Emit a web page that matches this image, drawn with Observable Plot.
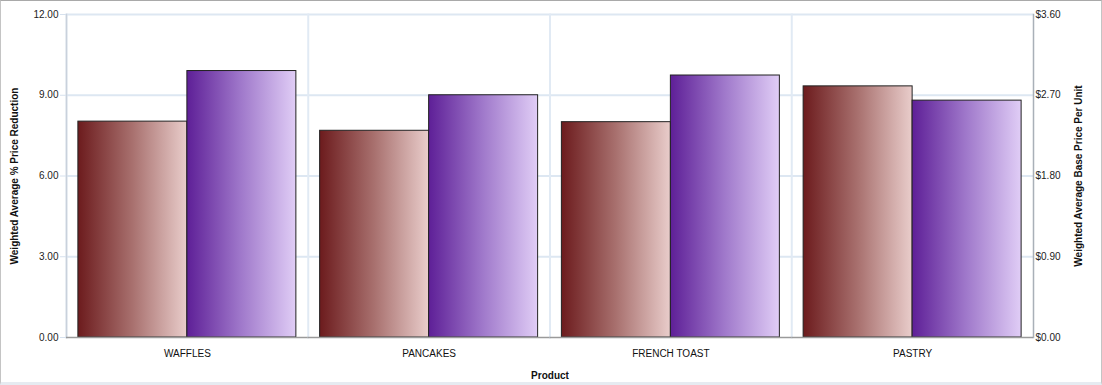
<!DOCTYPE html>
<html>
<head>
<meta charset="utf-8">
<script src="https://cdn.jsdelivr.net/npm/d3@7"></script>
<script src="https://cdn.jsdelivr.net/npm/@observablehq/plot@0.6"></script>
<style>
  html, body { margin: 0; padding: 0; background: #fff; }
  #wrap { position: relative; width: 1102px; height: 385px; }
  #border { position: absolute; left: 0; top: 0; width: 1102px; height: 385px; box-sizing: border-box;
    border: 1px solid #c4c4c4; border-top-color: #a9a9a9; border-bottom: 3px solid #e6ebf1; pointer-events: none; }
  svg { font-family: Arial, "Liberation Sans", sans-serif; }
</style>
</head>
<body>
<div id="wrap"><div id="border"></div></div>
<script>
// ---- data ----
const products = ["WAFFLES", "PANCAKES", "FRENCH TOAST", "PASTRY"];
const priceReduction = [8.02, 7.68, 8.0, 9.33];      // Weighted Average % Price Reduction (left axis)
const basePrice = [2.97, 2.70, 2.92, 2.64];          // Weighted Average Base Price Per Unit (right axis, $)
const leftTicks = [0, 3, 6, 9, 12];
const rightMax = 3.6, leftMax = 12;

const toLeft = v => v * leftMax / rightMax;
const rows = products.flatMap((p, i) => [
  {product: p, series: "reduction", value: priceReduction[i]},
  {product: p, series: "price", value: toLeft(basePrice[i])}
]);

const plot = Plot.plot({
  width: 1102,
  height: 385,
  marginLeft: 66,
  marginRight: 69,
  marginTop: 14,
  marginBottom: 48,
  style: {fontFamily: "Arial, 'Liberation Sans', sans-serif", fontSize: "10px", color: "#111", background: "transparent"},
  fx: {domain: products, padding: 0, round: false, label: null},
  x: {domain: ["reduction", "price"], paddingInner: 0, paddingOuter: 0.109, round: false, axis: null},
  y: {domain: [0, leftMax], axis: null},
  marks: [
    Plot.gridY(leftTicks.slice(1), {stroke: "#dde7f2", strokeOpacity: 1, strokeWidth: 2}),
    Plot.frame({anchor: "left", stroke: "#e1eaf4", strokeWidth: 2}),
    Plot.barY(rows.filter(d => d.series === "reduction"), {fx: "product", x: "series", y: "value", fill: "url(#gRed)", stroke: "#222", strokeWidth: 1}),
    Plot.barY(rows.filter(d => d.series === "price"), {fx: "product", x: "series", y: "value", fill: "url(#gPurple)", stroke: "#222", strokeWidth: 1}),
    Plot.frame({anchor: "left", facetAnchor: "left", stroke: "#c9d1dc", strokeWidth: 1.5}),
    Plot.frame({anchor: "right", facetAnchor: "right", stroke: "#a9b0b8", strokeWidth: 1.5}),
    Plot.ruleY([0], {stroke: "#9a9a9a", strokeWidth: 1.5}),
    Plot.axisY(leftTicks, {anchor: "left", tickSize: 6, tickPadding: 2, stroke: "#d6e1ee", fill: "#222",
      tickFormat: d => d.toFixed(2), label: "Weighted Average % Price Reduction", labelAnchor: "center", labelOffset: 56, labelArrow: "none"}),
    Plot.axisY(leftTicks, {anchor: "right", tickSize: 0, tickPadding: 2, fill: "#222",
      tickFormat: d => "$" + (d * rightMax / leftMax).toFixed(2), label: "Weighted Average Base Price Per Unit", labelAnchor: "center", labelOffset: 48, labelArrow: "none"}),
    Plot.axisFx({anchor: "bottom", tickSize: 0, tickPadding: 12, fill: "#111", label: "Product", labelAnchor: "center", labelOffset: 41, labelArrow: "none"})
  ]
});

const svg = d3.select(plot);
const defs = svg.insert("defs", ":first-child");
const gr = defs.append("linearGradient").attr("id", "gRed").attr("x1", 0).attr("x2", 1).attr("y1", 0).attr("y2", 0);
gr.append("stop").attr("offset", 0).attr("stop-color", "#6c1b1d");
gr.append("stop").attr("offset", 0.5).attr("stop-color", "#a8706e");
gr.append("stop").attr("offset", 1).attr("stop-color", "#e9cdcb");
const gp = defs.append("linearGradient").attr("id", "gPurple").attr("x1", 0).attr("x2", 1).attr("y1", 0).attr("y2", 0);
gp.append("stop").attr("offset", 0).attr("stop-color", "#5e1f97");
gp.append("stop").attr("offset", 0.5).attr("stop-color", "#a079cb");
gp.append("stop").attr("offset", 1).attr("stop-color", "#e0cdf6");
svg.selectAll('g[aria-label$="axis label"] text').attr("font-weight", "bold").attr("font-size", "10px").attr("fill", "#111");
svg.style("position", "absolute").style("left", 0).style("top", 0);
document.getElementById("wrap").insertBefore(plot, document.getElementById("border"));
</script>
</body>
</html>
